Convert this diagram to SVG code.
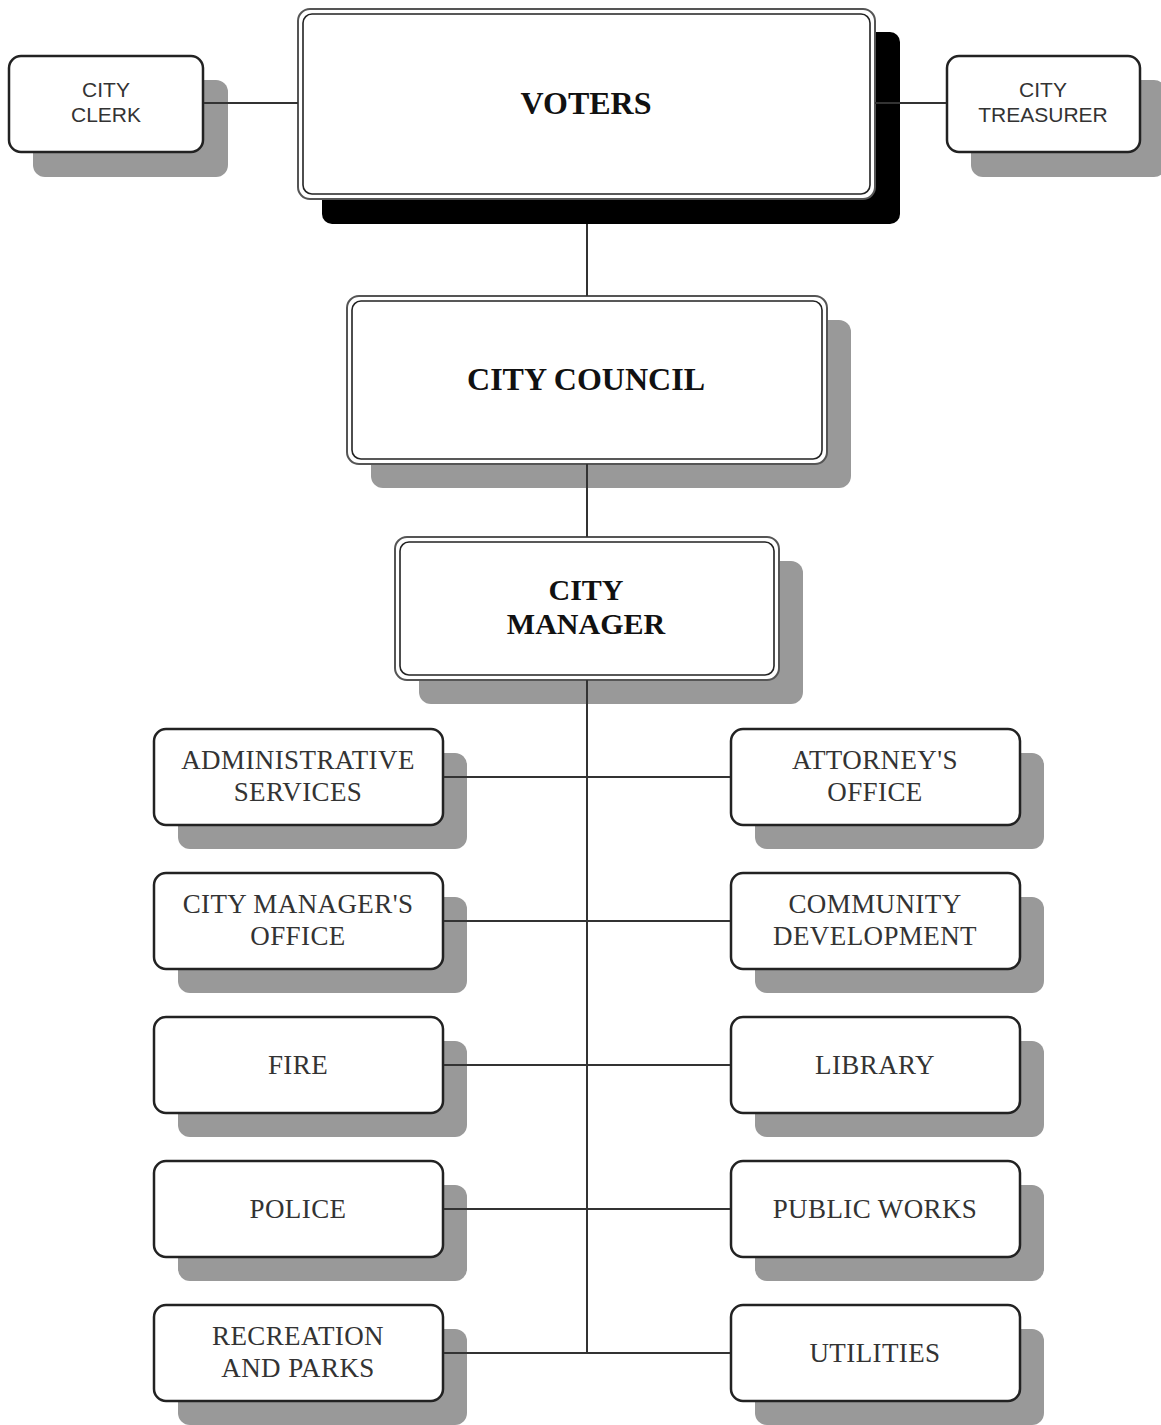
<svg xmlns="http://www.w3.org/2000/svg" width="1161" height="1425" viewBox="0 0 1161 1425">
<style>
.sh{fill:#999}
.shb{fill:#000}
.box{fill:#fff;stroke:#222;stroke-width:2.5}
.outer{fill:#fff;stroke:#555;stroke-width:2}
.inner{fill:none;stroke:#222;stroke-width:1.6}
.con{stroke:#333;stroke-width:2;fill:none}
.sans{font-family:"Liberation Sans",Arial,sans-serif;font-size:21px;fill:#333;text-anchor:middle}
.main{font-family:"Liberation Serif","Times New Roman",serif;font-weight:bold;fill:#111;text-anchor:middle}
.dept{font-family:"Liberation Serif","Times New Roman",serif;font-size:27px;fill:#333;text-anchor:middle;letter-spacing:0.4px}
</style>
<rect width="1161" height="1425" fill="#fff"/>
<g id="city-clerk">
<rect class="sh" x="33" y="80" width="195" height="97" rx="12"/>
<rect class="box" x="9" y="56" width="194" height="96" rx="12"/>
<text class="sans" x="106" y="97">CITY</text>
<text class="sans" x="106" y="122">CLERK</text>
</g>
<g id="city-treasurer">
<rect class="sh" x="971" y="80" width="195" height="97" rx="12"/>
<rect class="box" x="947" y="56" width="193" height="96" rx="12"/>
<text class="sans" x="1043" y="97">CITY</text>
<text class="sans" x="1043" y="122">TREASURER</text>
</g>
<g id="voters">
<rect class="shb" x="322" y="32" width="578" height="192" rx="10"/>
<rect class="outer" x="298" y="9" width="577" height="190" rx="12"/>
<rect class="inner" x="303" y="14" width="567" height="180" rx="9"/>
<text class="main" x="586" y="114" font-size="32">VOTERS</text>
</g>
<g id="city-council">
<rect class="sh" x="371" y="320" width="480" height="168" rx="12"/>
<rect class="outer" x="347" y="296" width="480" height="168" rx="12"/>
<rect class="inner" x="352" y="301" width="470" height="158" rx="9"/>
<text class="main" x="586" y="390" font-size="32">CITY COUNCIL</text>
</g>
<g id="city-manager">
<rect class="sh" x="419" y="561" width="384" height="143" rx="12"/>
<rect class="outer" x="395" y="537" width="384" height="143" rx="12"/>
<rect class="inner" x="400" y="542" width="374" height="133" rx="9"/>
<text class="main" x="586" y="600" font-size="30">CITY</text>
<text class="main" x="586" y="634" font-size="30">MANAGER</text>
</g>
<g id="administrative-services">
<rect class="sh" x="178" y="753" width="289" height="96" rx="12"/>
<rect class="box" x="154" y="729" width="289" height="96" rx="12"/>
<text class="dept" x="298" y="769">ADMINISTRATIVE</text>
<text class="dept" x="298" y="801">SERVICES</text>
</g>
<g id="attorneys-office">
<rect class="sh" x="755" y="753" width="289" height="96" rx="12"/>
<rect class="box" x="731" y="729" width="289" height="96" rx="12"/>
<text class="dept" x="875" y="769">ATTORNEY'S</text>
<text class="dept" x="875" y="801">OFFICE</text>
</g>
<g id="city-managers-office">
<rect class="sh" x="178" y="897" width="289" height="96" rx="12"/>
<rect class="box" x="154" y="873" width="289" height="96" rx="12"/>
<text class="dept" x="298" y="913">CITY MANAGER'S</text>
<text class="dept" x="298" y="945">OFFICE</text>
</g>
<g id="community-development">
<rect class="sh" x="755" y="897" width="289" height="96" rx="12"/>
<rect class="box" x="731" y="873" width="289" height="96" rx="12"/>
<text class="dept" x="875" y="913">COMMUNITY</text>
<text class="dept" x="875" y="945">DEVELOPMENT</text>
</g>
<g id="fire">
<rect class="sh" x="178" y="1041" width="289" height="96" rx="12"/>
<rect class="box" x="154" y="1017" width="289" height="96" rx="12"/>
<text class="dept" x="298" y="1074">FIRE</text>
</g>
<g id="library">
<rect class="sh" x="755" y="1041" width="289" height="96" rx="12"/>
<rect class="box" x="731" y="1017" width="289" height="96" rx="12"/>
<text class="dept" x="875" y="1074">LIBRARY</text>
</g>
<g id="police">
<rect class="sh" x="178" y="1185" width="289" height="96" rx="12"/>
<rect class="box" x="154" y="1161" width="289" height="96" rx="12"/>
<text class="dept" x="298" y="1218">POLICE</text>
</g>
<g id="public-works">
<rect class="sh" x="755" y="1185" width="289" height="96" rx="12"/>
<rect class="box" x="731" y="1161" width="289" height="96" rx="12"/>
<text class="dept" x="875" y="1218">PUBLIC WORKS</text>
</g>
<g id="recreation-and-parks">
<rect class="sh" x="178" y="1329" width="289" height="96" rx="12"/>
<rect class="box" x="154" y="1305" width="289" height="96" rx="12"/>
<text class="dept" x="298" y="1345">RECREATION</text>
<text class="dept" x="298" y="1377">AND PARKS</text>
</g>
<g id="utilities">
<rect class="sh" x="755" y="1329" width="289" height="96" rx="12"/>
<rect class="box" x="731" y="1305" width="289" height="96" rx="12"/>
<text class="dept" x="875" y="1362">UTILITIES</text>
</g>
<g id="connectors">
<line class="con" x1="204" y1="103" x2="298" y2="103"/>
<line class="con" x1="875" y1="103" x2="946" y2="103"/>
<line class="con" x1="587" y1="224" x2="587" y2="296"/>
<line class="con" x1="587" y1="464" x2="587" y2="537"/>
<line class="con" x1="587" y1="680" x2="587" y2="1353"/>
<line class="con" x1="444" y1="777" x2="730" y2="777"/>
<line class="con" x1="444" y1="921" x2="730" y2="921"/>
<line class="con" x1="444" y1="1065" x2="730" y2="1065"/>
<line class="con" x1="444" y1="1209" x2="730" y2="1209"/>
<line class="con" x1="444" y1="1353" x2="730" y2="1353"/>
</g>
</svg>
